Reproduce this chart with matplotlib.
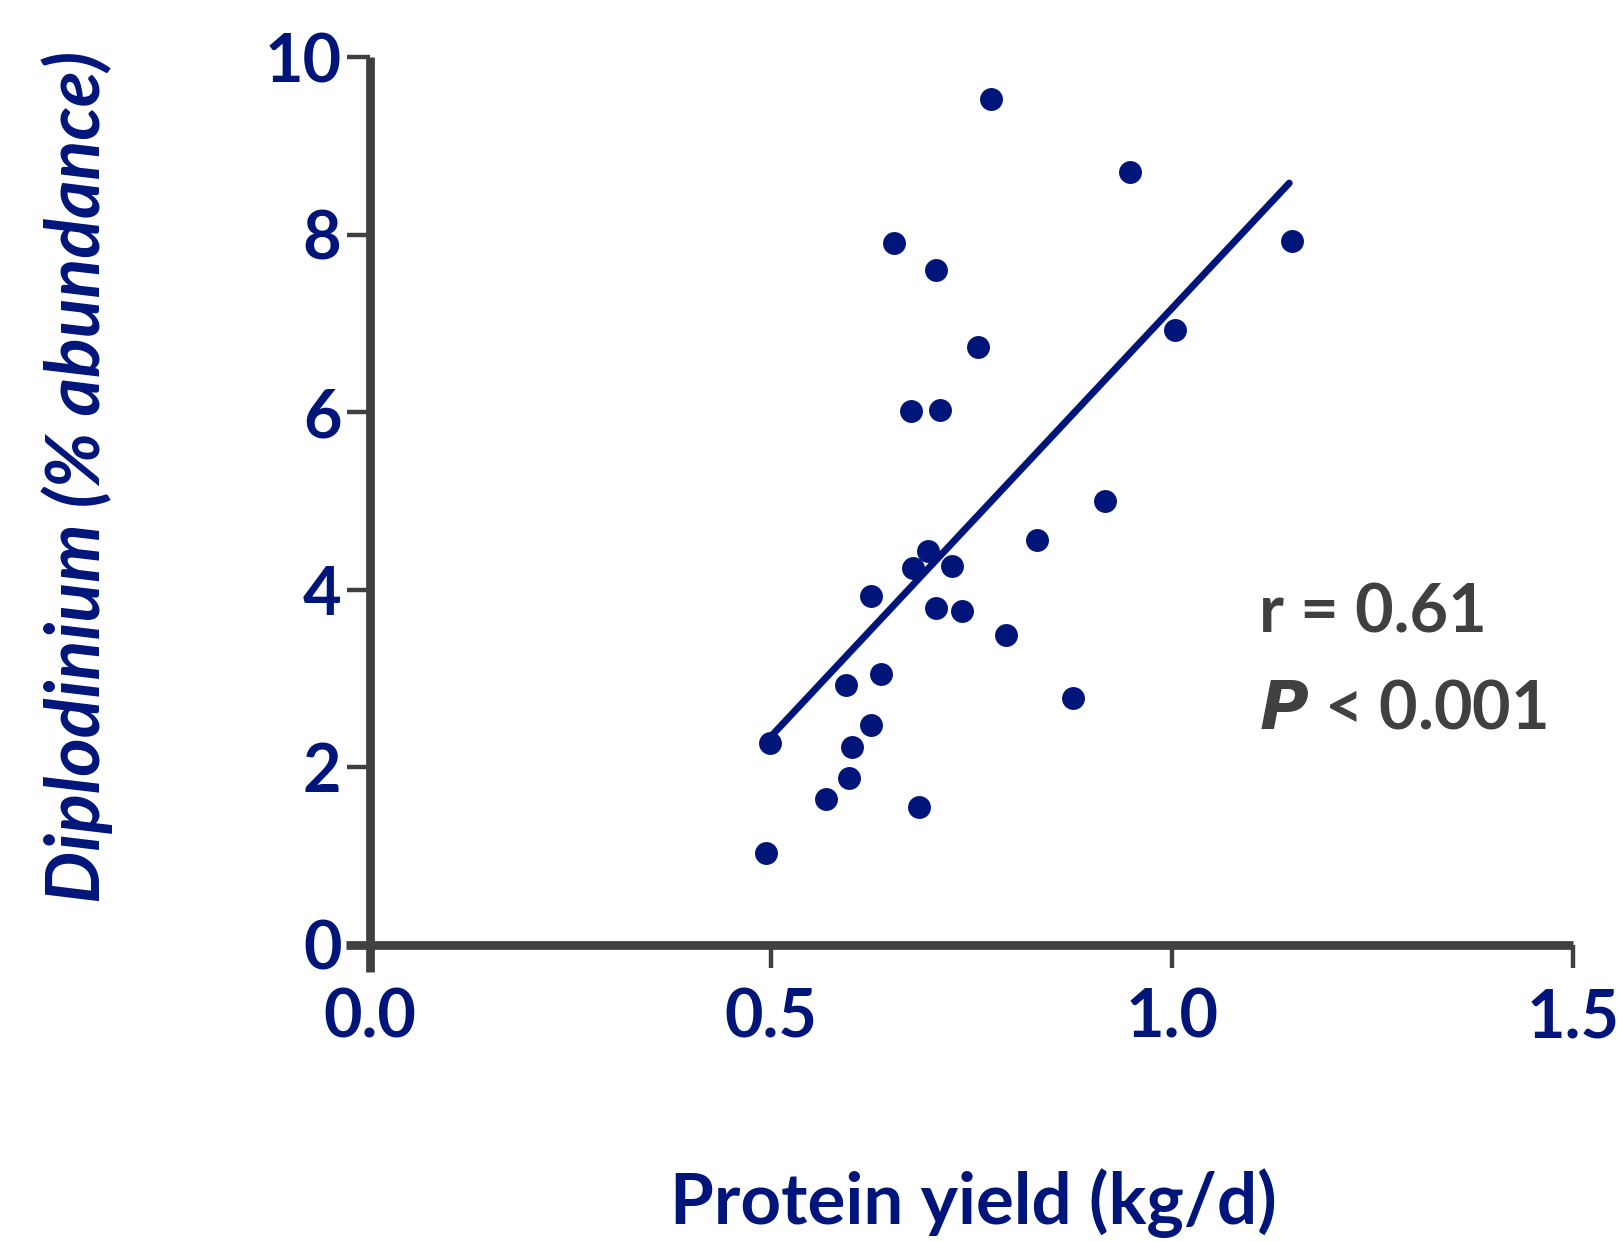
import matplotlib
matplotlib.use("Agg")
import matplotlib.pyplot as plt

# protein yield (kg/d) vs Diplodinium abundance (%)
protein_yield = [0.774, 0.947, 0.653, 1.149, 0.705, 0.758, 1.004, 0.675, 0.710,
                 0.916, 0.831, 0.696, 0.677, 0.726, 0.625, 0.706, 0.738, 0.793,
                 0.637, 0.593, 0.624, 0.876, 0.499, 0.601, 0.597, 0.568, 0.684,
                 0.494]
diplodinium = [9.53, 8.71, 7.91, 7.93, 7.60, 6.73, 6.93, 6.01, 6.03,
               5.00, 4.56, 4.44, 4.24, 4.27, 3.93, 3.79, 3.76, 3.49,
               3.05, 2.93, 2.48, 2.78, 2.27, 2.23, 1.88, 1.64, 1.55,
               1.03]

# regression line end points
fit_x = [0.50, 1.146]
fit_y = [2.35, 8.58]

x_ticks = [0.0, 0.5, 1.0, 1.5]
x_tick_labels = ["0.0", "0.5", "1.0", "1.5"]
y_ticks = [0, 2, 4, 6, 8, 10]

navy = "#00157A"
grey = "#404040"

plt.rcParams["font.family"] = ["Lato", "DejaVu Sans"]
plt.rcParams["font.weight"] = "bold"

fig = plt.figure(figsize=(16.2, 12.41), dpi=100)
ax = fig.add_axes([0.2136, 0.2171, 0.981 - 0.2136, 0.9648 - 0.2171])

ax.plot(fit_x, fit_y, color=navy, lw=5, solid_capstyle="round", zorder=2)
ax.plot(protein_yield, diplodinium, "o", color=navy, markersize=16.5,
        markeredgewidth=0, clip_on=False, zorder=3)

ax.set_xlim(-0.03, 1.52)
ax.set_ylim(-0.3, 10.15)

for s in ["top", "right"]:
    ax.spines[s].set_visible(False)
ax.spines["left"].set_position(("data", 0))
ax.spines["bottom"].set_position(("data", 0))
ax.spines["left"].set_bounds(-0.3, 10)
ax.spines["bottom"].set_bounds(-0.03, 1.5)
for s in ["left", "bottom"]:
    ax.spines[s].set_color(grey)
    ax.spines[s].set_linewidth(6.3)
    ax.spines[s].set_capstyle("butt")

ax.set_xticks(x_ticks)
ax.set_xticklabels(x_tick_labels)
ax.set_yticks(y_ticks)
ax.tick_params(axis="both", direction="out", length=16.6, width=3.2,
               color=grey, labelcolor=navy, labelsize=48)
ax.tick_params(axis="x", pad=14)
ax.tick_params(axis="y", pad=4)
for lab in ax.get_xticklabels() + ax.get_yticklabels():
    lab.set_fontweight("bold")

ax.text(1.108, 3.52, "r = 0.61", color=grey, fontsize=48, fontweight="bold",
        ha="left", va="baseline")
ax.text(1.108, 2.44, r"$\mathbfit{P}$ < 0.001", color=grey, fontsize=48,
        fontweight="bold", ha="left", va="baseline")

fig.text(77 / 1620, 1 - 477 / 1241, "Diplodinium (% abundance)", rotation=90,
         color=navy, fontsize=53, fontweight="bold", fontstyle="italic",
         ha="center", va="center")
fig.text(973 / 1620, 1 - 1224 / 1241, "Protein yield (kg/d)", color=navy,
         fontsize=51, fontweight="bold", ha="center", va="baseline")

fig.savefig("out.png", dpi=100)
